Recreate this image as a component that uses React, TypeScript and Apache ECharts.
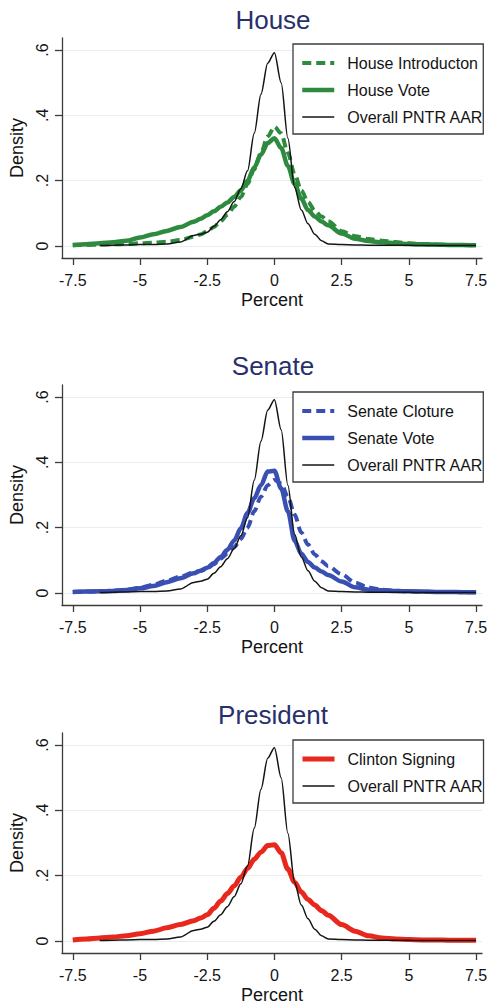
import { useEffect, useRef } from 'react'
import * as echarts from 'echarts'

// shared x grid (percent) for every density curve
const percentGrid = [
  -7.5, -7, -6.5, -6, -5.5, -5, -4.5, -4, -3.5, -3, -2.75, -2.5, -2.25, -2, -1.75, -1.5, -1.25, -1, -0.75, -0.5, -0.25,
  0, 0.25, 0.5, 0.75, 1, 1.25, 1.5, 1.75, 2, 2.5, 3, 3.5, 4, 4.5, 5, 5.5, 6, 6.5, 7, 7.5
]

const overallAar = [
  null, null, 0.001, 0.002, 0.003, 0.004, 0.004, 0.006, 0.012, 0.032, 0.036, 0.042, 0.06, 0.08, 0.105, 0.135, 0.175, 0.23, 0.345, 0.465, 0.56,
  0.592, 0.5, 0.33, 0.18, 0.11, 0.068, 0.036, 0.016, 0.006, 0.004, 0.003, 0.002, 0.002, 0.002, 0.002, 0.001, 0.001, 0.001, 0.001, 0.001
]

const houseIntroduction = [
  0.002, 0.003, 0.004, 0.005, 0.006, 0.008, 0.01, 0.013, 0.018, 0.028, 0.035, 0.045, 0.058, 0.076, 0.095, 0.12, 0.15, 0.19, 0.235, 0.285, 0.335,
  0.365, 0.345, 0.285, 0.22, 0.17, 0.135, 0.108, 0.09, 0.076, 0.045, 0.03, 0.021, 0.016, 0.012, 0.008, 0.006, 0.004, 0.003, 0.003, 0.002
]

const houseVote = [
  0.003, 0.005, 0.008, 0.011, 0.016, 0.026, 0.036, 0.046, 0.058, 0.074, 0.083, 0.094, 0.106, 0.12, 0.133, 0.15, 0.17, 0.2, 0.24, 0.28, 0.315,
  0.33, 0.3, 0.245, 0.19, 0.145, 0.11, 0.09, 0.075, 0.063, 0.038, 0.022, 0.015, 0.011, 0.008, 0.006, 0.005, 0.004, 0.003, 0.003, 0.002
]

const senateCloture = [
  0.003, 0.004, 0.005, 0.007, 0.01, 0.016, 0.025, 0.038, 0.05, 0.062, 0.068, 0.075, 0.088, 0.105, 0.12, 0.14, 0.165, 0.2, 0.25, 0.295, 0.33,
  0.346, 0.335, 0.295, 0.24, 0.185, 0.148, 0.118, 0.097, 0.082, 0.057, 0.032, 0.016, 0.01, 0.007, 0.005, 0.004, 0.003, 0.003, 0.002, 0.002
]

const senateVote = [
  0.003, 0.004, 0.005, 0.006, 0.009, 0.014, 0.021, 0.033, 0.045, 0.06, 0.068, 0.077, 0.092, 0.11, 0.132, 0.16, 0.198, 0.245, 0.29, 0.33, 0.372,
  0.374, 0.32, 0.25, 0.16, 0.12, 0.095, 0.078, 0.066, 0.055, 0.035, 0.017, 0.01, 0.008, 0.006, 0.005, 0.004, 0.003, 0.003, 0.002, 0.002
]

const clintonSigning = [
  0.003, 0.006, 0.009, 0.012, 0.016, 0.022, 0.03, 0.04, 0.05, 0.062, 0.07, 0.08, 0.1, 0.122, 0.145, 0.168, 0.195, 0.222, 0.25, 0.272, 0.292,
  0.295, 0.27, 0.22, 0.18, 0.15, 0.127, 0.11, 0.093, 0.079, 0.05, 0.03, 0.016, 0.009, 0.006, 0.004, 0.003, 0.003, 0.002, 0.002, 0.002
]

const xTicks = [-7.5, -5, -2.5, 0, 2.5, 5, 7.5]
const yTicks = [0, 0.2, 0.4, 0.6]
const panelTitles = ['House', 'Senate', 'President']

const FONT = '"Liberation Sans", Arial, Helvetica, sans-serif'
const GREEN = '#2e8a3e'
const BLUE = '#3a4fb2'
const RED = '#e8281c'
const INK = '#141414'
const AXIS = '#3c3c3c'

// vertical layout of the three stacked panels
const gridTops = [38, 385, 733]
const gridHeight = 220
const titleTops = [7, 353, 702]
const legendTops = [44, 392, 740]

const widths: Record<string, number> = { dashed: 4, solid: 4.5, overall: 1.5, red: 5 }

function toPoints(values: (number | null)[]) {
  return percentGrid.map((x, i) => [x, values[i]]).filter((p) => p[1] != null)
}

function curve(name: string, values: (number | null)[], panel: number, color: string, width: number, dashed = false) {
  return {
    type: 'line',
    name,
    xAxisIndex: panel,
    yAxisIndex: panel,
    data: toPoints(values),
    symbol: 'none',
    showSymbol: false,
    smooth: 0.3,
    smoothMonotone: 'x',
    lineStyle: { color, width, type: dashed ? [9, 5] : 'solid' },
    itemStyle: { color },
    emphasis: { disabled: true }
  }
}

function legendItem(name: string, color: string, width: number, dashed = false) {
  return { name, lineStyle: { color, width, type: dashed ? [9, 5] : 'solid' } }
}

export default function App() {
  const chartRef = useRef<HTMLDivElement | null>(null)

  useEffect(() => {
    if (!chartRef.current) return
    const chart = echarts.init(chartRef.current, null, { renderer: 'svg' })

    const panels = [0, 1, 2]
    const series = [
      curve('House Introducton', houseIntroduction, 0, GREEN, widths.dashed, true),
      curve('House Vote', houseVote, 0, GREEN, widths.solid),
      curve('Overall PNTR AAR', overallAar, 0, INK, widths.overall),
      curve('Senate Cloture', senateCloture, 1, BLUE, widths.dashed, true),
      curve('Senate Vote', senateVote, 1, BLUE, widths.solid),
      curve('Overall PNTR AAR', overallAar, 1, INK, widths.overall),
      curve('Clinton Signing', clintonSigning, 2, RED, widths.red),
      curve('Overall PNTR AAR', overallAar, 2, INK, widths.overall)
    ]
    const overallItem = legendItem('Overall PNTR AAR', INK, widths.overall)
    const legendData = [
      [legendItem('House Introducton', GREEN, widths.dashed, true), legendItem('House Vote', GREEN, widths.solid), overallItem],
      [legendItem('Senate Cloture', BLUE, widths.dashed, true), legendItem('Senate Vote', BLUE, widths.solid), overallItem],
      [legendItem('Clinton Signing', RED, widths.red), overallItem]
    ]

    chart.setOption({
      animation: false,
      backgroundColor: '#fff',
      title: panels.map((i) => ({
        text: panelTitles[i],
        left: 273,
        top: titleTops[i],
        textAlign: 'center',
        padding: 0,
        textStyle: { fontFamily: FONT, fontSize: 26, fontWeight: 'normal', color: '#27306b' }
      })),
      legend: panels.map((i) => ({
        orient: 'vertical',
        left: 293,
        top: legendTops[i],
        itemWidth: 32,
        itemHeight: 16,
        itemGap: 11,
        padding: [11, 0, 9, 7],
        borderColor: AXIS,
        borderWidth: 1.3,
        backgroundColor: '#fff',
        selectedMode: false,
        // hide the marker ECharts puts in the middle of a line icon
        itemStyle: { opacity: 0, borderWidth: 0 },
        textStyle: { fontFamily: FONT, fontSize: 16, color: INK, padding: [0, 0, 0, 8] },
        data: legendData[i]
      })),
      grid: panels.map((i) => ({ left: 62, right: 9, top: gridTops[i], height: gridHeight })),
      xAxis: panels.map((i) => ({
        type: 'value',
        gridIndex: i,
        min: -7.9,
        max: 7.72,
        name: 'Percent',
        nameLocation: 'middle',
        nameGap: 33,
        nameTextStyle: { fontFamily: FONT, fontSize: 18, color: INK },
        axisLine: { onZero: false, lineStyle: { color: AXIS, width: 1.3 } },
        axisTick: { customValues: xTicks, length: 7, lineStyle: { color: AXIS, width: 1.3 } },
        axisLabel: {
          customValues: xTicks,
          margin: 14,
          fontFamily: FONT,
          fontSize: 16,
          color: INK,
          formatter: (v: number) => String(v)
        },
        splitLine: { show: false }
      })),
      yAxis: panels.map((i) => ({
        type: 'value',
        gridIndex: i,
        min: -0.037,
        max: 0.637,
        name: 'Density',
        nameLocation: 'middle',
        nameGap: 27,
        nameTextStyle: { fontFamily: FONT, fontSize: 18, color: INK },
        axisLine: { show: true, onZero: false, lineStyle: { color: AXIS, width: 1.3 } },
        axisTick: { show: true, customValues: yTicks, length: 7, lineStyle: { color: AXIS, width: 1.3 } },
        axisLabel: {
          customValues: yTicks,
          rotate: 90,
          margin: 12,
          fontFamily: FONT,
          fontSize: 16,
          color: INK,
          formatter: (v: number) => (v === 0 ? '0' : String(v).replace(/^0/, ''))
        },
        splitLine: { show: true, lineStyle: { color: '#e8eff4', width: 1 } }
      })),
      series
    })

    return () => {
      chart.dispose()
    }
  }, [])

  return (
    <div
      ref={chartRef}
      style={{ position: 'fixed', left: 0, top: 0, width: 491, height: 1006, background: '#fff' }}
    />
  )
}
